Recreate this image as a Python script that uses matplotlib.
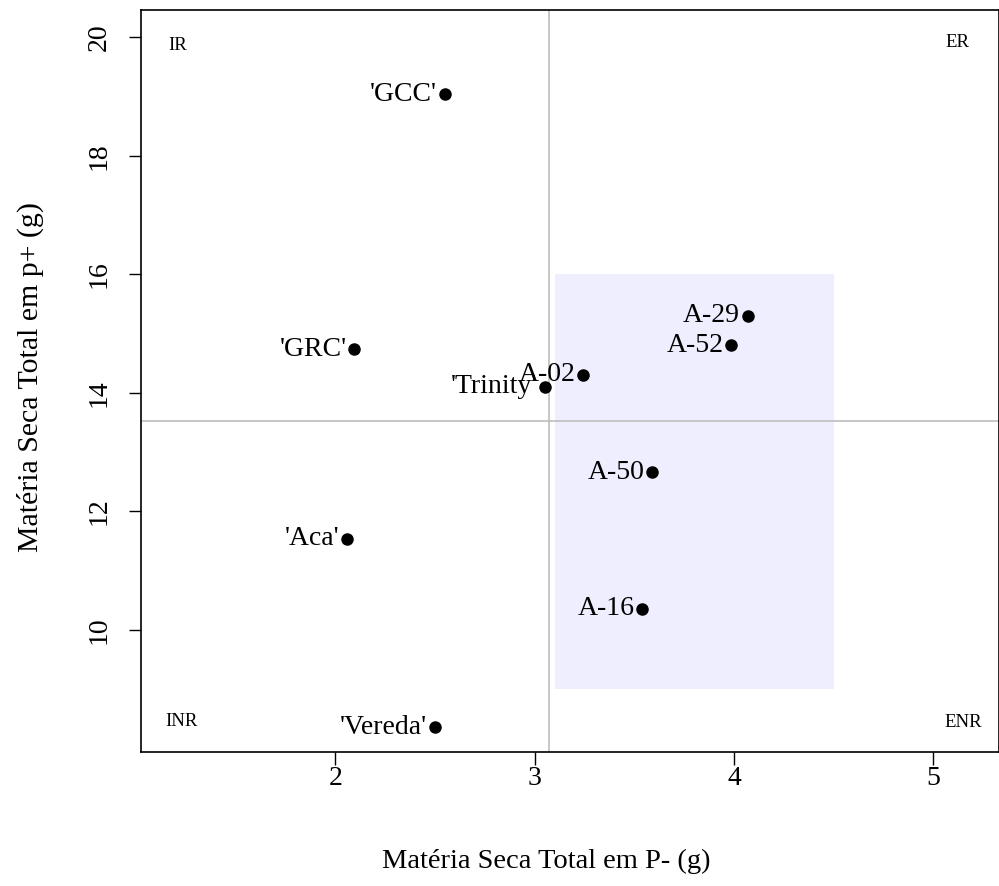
import matplotlib
matplotlib.use("Agg")
import matplotlib.pyplot as plt
from matplotlib.patches import Rectangle

# Genotypes: total dry matter under low P (x) and high P (y)
genotypes = ["'GCC'", "'GRC'", "'Trinity'", "A-02", "A-29", "A-52",
             "A-50", "A-16", "'Aca'", "'Vereda'"]
ms_p_minus = [2.55, 2.095, 3.05, 3.245, 4.07, 3.985, 3.59, 3.54, 2.06, 2.50]
ms_p_plus = [19.04, 14.74, 14.10, 14.31, 15.30, 14.80, 12.66, 10.36, 11.54, 8.36]

# Reference means dividing the quadrants
mean_p_minus = 3.07
mean_p_plus = 13.53

# Highlighted region
box_x = (3.1, 4.5)
box_y = (9.0, 16.0)

quadrants = ["IR", "ER", "INR", "ENR"]
quad_x = [1.21, 5.12, 1.23, 5.15]
quad_y = [19.86, 19.91, 8.46, 8.43]

xticks = [2, 3, 4, 5]
yticks = [10, 12, 14, 16, 18, 20]

plt.rcParams["font.family"] = ["Liberation Serif", "DejaVu Serif"]

fig = plt.figure(figsize=(9.99, 8.86), dpi=100)
ax = fig.add_axes([0.1411, 0.1512, 0.8589, 0.8375])

ax.add_patch(Rectangle((box_x[0], box_y[0]), box_x[1] - box_x[0], box_y[1] - box_y[0],
                       facecolor="#EEEEFF", edgecolor="none", zorder=0))
ax.axvline(mean_p_minus, color="#BEBEBE", lw=1.2, zorder=1)
ax.axhline(mean_p_plus, color="#BEBEBE", lw=1.2, zorder=1)

ax.plot(ms_p_minus, ms_p_plus, "o", color="black", ms=8, zorder=3)
for name, x, y in zip(genotypes, ms_p_minus, ms_p_plus):
    ax.annotate(name, (x, y), xytext=(-5.5, 0), textcoords="offset points",
                ha="right", va="center", fontsize=20, zorder=4)

for q, x, y in zip(quadrants, quad_x, quad_y):
    ax.text(x, y, q, ha="center", va="center", fontsize=13.5)

ax.set_xlim(1.025, 5.33)
ax.set_ylim(7.94, 20.46)
ax.set_xticks(xticks)
ax.set_yticks(yticks)
ax.tick_params(axis="both", direction="out", length=9, width=1, labelsize=20)
ax.tick_params(axis="x", pad=1)
ax.tick_params(axis="y", pad=12)
for lbl in ax.get_yticklabels():
    lbl.set_rotation(90)
    lbl.set_va("center")

for sp in ax.spines.values():
    sp.set_linewidth(1.2)

ax.set_xlabel("Matéria Seca Total em P- (g)", fontsize=20.5)
ax.xaxis.set_label_coords(0.472, -0.131)
ax.set_ylabel("Matéria Seca Total em p+ (g)", fontsize=21.5)
ax.yaxis.set_label_coords(-0.113, 0.505)

fig.savefig("out.png", dpi=100)
